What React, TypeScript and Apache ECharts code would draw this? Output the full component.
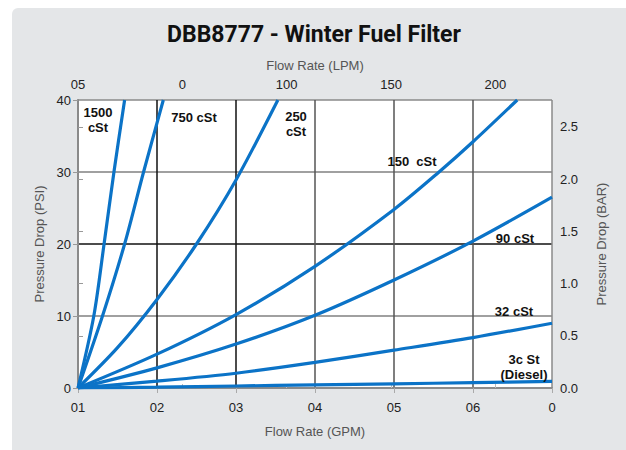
import React, { useEffect, useRef } from "react";
import * as echarts from "echarts";

const gpmTickLabels = ["01", "02", "03", "04", "05", "06", "0"];
const lpmTickLabels = ["05", "0", "100", "150", "200"];
const psiTicks = [0, 10, 20, 30, 40];

const flow1500 = [0, 2.0, 3.3, 4.55, 5.9];
const psi1500 = [0, 10, 20, 30, 40];
const flow750 = [0, 3.1, 5.9, 8.3, 10.8];
const psi750 = [0, 10, 20, 30, 40];
const flow250 = [0, 5, 10, 15, 20, 25.3];
const psi250 = [0, 5.6, 12.3, 20.0, 28.9, 40];
const flow150 = [0, 10, 20, 30, 40, 45.7, 50, 55.6];
const psi150 = [0, 4.7, 10.2, 16.9, 24.8, 30, 34.2, 40];
const flow90 = [0, 10, 20, 30, 40, 50, 60];
const psi90 = [0, 2.8, 6.1, 10.1, 15, 20.4, 26.5];
const flow32 = [0, 10, 20, 30, 40, 50, 60];
const psi32 = [0, 0.95, 2.05, 3.55, 5.25, 7.0, 9.0];
const flow3 = [0, 10, 20, 30, 40, 50, 60];
const psi3 = [0, 0.12, 0.28, 0.43, 0.58, 0.74, 0.92];

const GPM_TO_LPM = 3.78541;
const PSI_TO_BAR = 0.0689476;
const GPM_MAX = 60;
const PSI_MAX = 40;

const BLUE = "#0b73c7";
const FONT = "'Liberation Sans', Arial, sans-serif";

function pairs(x: number[], y: number[]) {
  return x.map((v, i) => [v, y[i]]);
}

export default function App() {
  const ref = useRef<HTMLDivElement>(null);

  useEffect(() => {
    if (!ref.current) return;
    const chart = echarts.init(ref.current, null, { renderer: "svg" });
    const curves = [
      ["1500 cSt", flow1500, psi1500],
      ["750 cSt", flow750, psi750],
      ["250 cSt", flow250, psi250],
      ["150 cSt", flow150, psi150],
      ["90 cSt", flow90, psi90],
      ["32 cSt", flow32, psi32],
      ["3 cSt", flow3, psi3],
    ] as [string, number[], number[]][];

    const labelStyle = (text: string, x: number, y: number, align = "center") => ({
      type: "text",
      x,
      y,
      style: {
        text,
        fill: "#111",
        font: `bold 13px ${FONT}`,
        textAlign: align,
        textVerticalAlign: "top",
        lineHeight: 15,
      },
      z: 10,
    });

    const tickLabel = { color: "#222", fontSize: 13, fontFamily: FONT };
    const nameStyle = { color: "#555", fontSize: 13, fontFamily: FONT };

    chart.setOption({
      animation: false,
      title: {
        text: "DBB8777 - Winter Fuel Filter",
        left: 309,
        textAlign: "center",
        top: 18,
        textStyle: { fontFamily: "Roboto", fontWeight: "bold", fontSize: 23, color: "#111" },
      },
      grid: {
        left: 78,
        right: 74,
        top: 100,
        bottom: 62,
        show: true,
        backgroundColor: "#ffffff",
        borderWidth: 0,
      },
      xAxis: [
        {
          type: "value",
          position: "bottom",
          min: 0,
          max: GPM_MAX,
          interval: 10,
          name: "Flow Rate (GPM)",
          nameLocation: "middle",
          nameGap: 37,
          nameTextStyle: nameStyle,
          axisLine: { show: true, lineStyle: { color: "#8a8a8a", width: 1.5 } },
          axisTick: { show: true, length: 5, lineStyle: { color: "#aaa" } },
          axisLabel: {
            ...tickLabel,
            margin: 13,
            formatter: (v: number) => gpmTickLabels[Math.round(v / 10)] ?? "",
          },
          splitLine: {
            show: true,
            lineStyle: {
              color: ["#8a8a8a", "#111", "#111", "#555", "#555", "#555", "#8a8a8a"],
              width: 1.5,
            },
          },
        },
        {
          type: "value",
          position: "top",
          min: 0,
          max: GPM_MAX * GPM_TO_LPM,
          interval: 50,
          name: "Flow Rate (LPM)",
          nameLocation: "middle",
          nameGap: 28,
          nameTextStyle: nameStyle,
          axisLine: { show: true, lineStyle: { color: "#8a8a8a", width: 1.5 } },
          axisTick: { show: true, length: 4, lineStyle: { color: "#bbb" } },
          axisLabel: {
            ...tickLabel,
            margin: 9,
            showMaxLabel: false,
            formatter: (v: number) => lpmTickLabels[Math.round(v / 50)] ?? "",
          },
          splitLine: { show: false },
        },
      ],
      yAxis: [
        {
          type: "value",
          position: "left",
          min: psiTicks[0],
          max: PSI_MAX,
          interval: 10,
          name: "Pressure Drop (PSI)",
          nameLocation: "middle",
          nameRotate: 90,
          nameGap: 31,
          nameTextStyle: nameStyle,
          axisLine: { show: true, lineStyle: { color: "#a0a0a0", width: 1.5 } },
          axisTick: { show: true, length: 5, lineStyle: { color: "#999" } },
          axisLabel: { ...tickLabel, margin: 7 },
          splitLine: {
            show: true,
            lineStyle: { color: ["#8a8a8a", "#808080", "#111", "#808080", "#8a8a8a"], width: 1.5 },
          },
        },
        {
          type: "value",
          position: "right",
          min: 0,
          max: PSI_MAX * PSI_TO_BAR,
          interval: 0.5,
          name: "Pressure Drop (BAR)",
          nameLocation: "middle",
          nameRotate: 90,
          nameGap: 43,
          nameTextStyle: nameStyle,
          axisLine: { show: true, lineStyle: { color: "#8a8a8a", width: 2 } },
          axisTick: { show: true, length: 5, lineStyle: { color: "#999" } },
          axisLabel: {
            ...tickLabel,
            margin: 8,
            showMaxLabel: false,
            formatter: (v: number) => v.toFixed(1),
          },
          splitLine: { show: false },
        },
      ],
      series: curves.map(([name, x, y]) => ({
        name,
        type: "line",
        xAxisIndex: 0,
        yAxisIndex: 0,
        data: pairs(x, y),
        smooth: 0.3,
        showSymbol: false,
        clip: true,
        lineStyle: { color: BLUE, width: 3.2 },
        z: 3,
      })),
      graphic: [
        labelStyle("1500\ncSt", 98, 105),
        labelStyle("750 cSt", 194, 110),
        labelStyle("250\ncSt", 296, 109),
        labelStyle("150  cSt", 412, 154),
        labelStyle("90 cSt", 515, 231),
        labelStyle("32 cSt", 514, 304),
        labelStyle("3c St\n(Diesel)", 524, 352),
      ],
    });
    return () => chart.dispose();
  }, []);

  return (
    <div style={{ position: "fixed", left: 0, top: 0, width: 626, height: 450, background: "#fff", overflow: "hidden" }}>
      <div
        style={{
          position: "absolute",
          left: 12,
          top: 8,
          right: 0,
          bottom: 0,
          background: "#e4e6e8",
          borderTopLeftRadius: 6,
        }}
      />
      <div ref={ref} style={{ position: "absolute", left: 0, top: 0, width: 626, height: 450 }} />
    </div>
  );
}
